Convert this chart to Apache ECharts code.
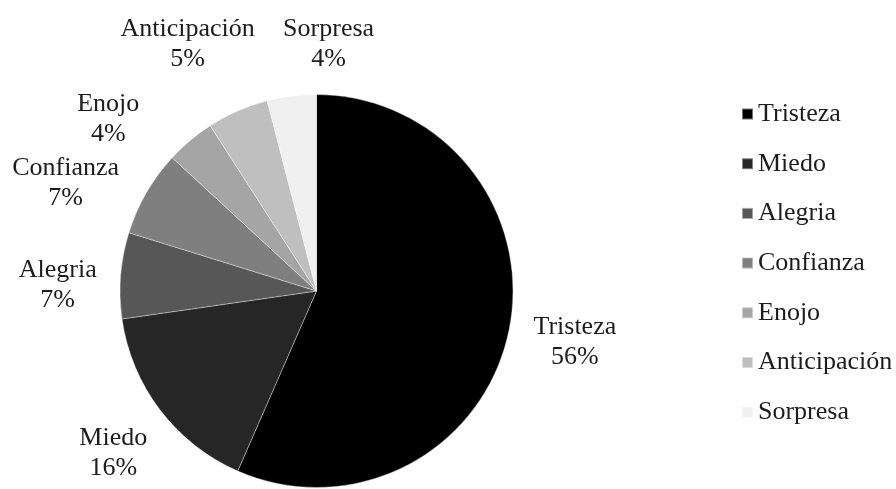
<!DOCTYPE html>
<html>
<head>
<meta charset="utf-8">
<script src="https://cdn.jsdelivr.net/npm/echarts@6/dist/echarts.min.js"></script>
<style>
  html, body { margin: 0; padding: 0; background: #ffffff; }
  #chart { width: 896px; height: 489px; }
</style>
</head>
<body>
<div id="chart"></div>
<script>
// Emotion categories and their share (%)
const categories = ['Tristeza', 'Miedo', 'Alegria', 'Confianza', 'Enojo', 'Anticipación', 'Sorpresa'];
const shares = [56, 16, 7, 7, 4, 5, 4];

// Greyscale fill per slice
const sliceColors = ['#000000', '#262626', '#575757', '#7f7f7f', '#a5a5a5', '#bfbfbf', '#f0f0f0'];

// Small nudges for the outside labels so they sit clear of each other
const labelNudge = [
  [0, 7], [8, 31], [1, 11], [-5, 0], [-33, -6], [30, -48], [90, -32]
];

const chart = echarts.init(document.getElementById('chart'), null, { renderer: 'canvas' });

const fontFamily = 'Liberation Serif';
const textColor = '#1c1c1c';

chart.setOption({
  backgroundColor: '#ffffff',
  animation: false,
  legend: {
    orient: 'vertical',
    left: 736,
    top: 96,
    itemWidth: 11,
    itemHeight: 11,
    itemGap: 23.7,
    icon: 'rect',
    textStyle: {
      fontFamily: fontFamily,
      fontSize: 26,
      lineHeight: 24,
      color: textColor,
      padding: [0, 0, 0, 0]
    },
    data: categories
  },
  series: [{
    type: 'pie',
    center: [316.5, 291],
    radius: 196.5,
    startAngle: 90,
    clockwise: true,
    avoidLabelOverlap: false,
    itemStyle: {
      borderColor: 'rgba(255,255,255,0.45)',
      borderWidth: 0.8
    },
    label: {
      show: true,
      position: 'outside',
      formatter: '{n|{b}}\n{p|{c}%}',
      distanceToLabelLine: 5,
      rich: {
        n: { fontFamily: fontFamily, fontSize: 26, lineHeight: 30, color: textColor, align: 'center' },
        p: { fontFamily: fontFamily, fontSize: 26, lineHeight: 30, color: textColor, align: 'center' }
      }
    },
    labelLine: { show: false, length: 20, length2: 0 },
    labelLayout: function (params) {
      const n = labelNudge[params.dataIndex] || [0, 0];
      return { dx: n[0], dy: n[1] };
    },
    data: categories.map((name, i) => ({
      name: name,
      value: shares[i],
      itemStyle: { color: sliceColors[i] }
    }))
  }]
});
</script>
</body>
</html>
